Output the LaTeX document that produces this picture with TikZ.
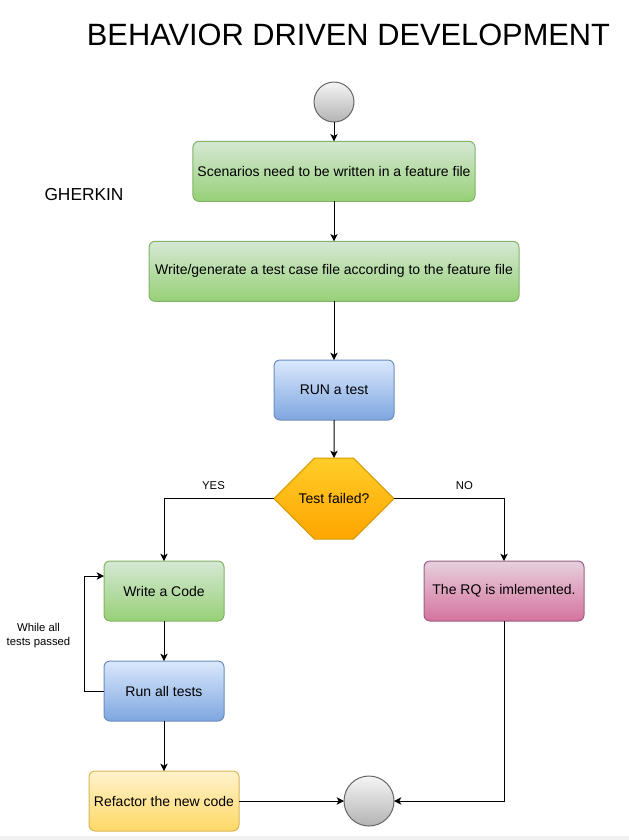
\documentclass[tikz,border=0pt]{standalone}
\usepackage{fontspec}
\setmainfont{Liberation Sans}
\usetikzlibrary{positioning}
\usetikzlibrary{arrows.meta}
\usetikzlibrary{shapes.misc}

\definecolor{greenTop}{HTML}{D5E8D4}
\definecolor{greenBot}{HTML}{97D077}
\definecolor{greenLine}{HTML}{82B366}
\definecolor{blueTop}{HTML}{DAE8FC}
\definecolor{blueBot}{HTML}{7EA6E0}
\definecolor{blueLine}{HTML}{6C8EBF}
\definecolor{orangeTop}{HTML}{FFCD28}
\definecolor{orangeBot}{HTML}{FFA500}
\definecolor{orangeLine}{HTML}{D79B00}
\definecolor{pinkTop}{HTML}{E6D0DE}
\definecolor{pinkBot}{HTML}{D5739D}
\definecolor{pinkLine}{HTML}{996185}
\definecolor{yellowTop}{HTML}{FFF2CC}
\definecolor{yellowBot}{HTML}{FFD966}
\definecolor{yellowLine}{HTML}{D6B656}
\definecolor{grayTop}{HTML}{F5F5F5}
\definecolor{grayBot}{HTML}{B3B3B3}
\definecolor{grayLine}{HTML}{666666}

\tikzset{
  box/.style={rectangle, rounded corners=4.5pt, line width=0.75pt, outer sep=0pt,
    minimum height=45pt, align=center, font=\fontsize{10.5}{12.5}\selectfont},
  greenbox/.style={box, draw=greenLine, top color=greenTop, bottom color=greenBot},
  bluebox/.style={box, draw=blueLine, top color=blueTop, bottom color=blueBot},
  pinkbox/.style={box, draw=pinkLine, top color=pinkTop, bottom color=pinkBot},
  yellowbox/.style={box, draw=yellowLine, top color=yellowTop, bottom color=yellowBot},
  terminal/.style={circle, line width=0.75pt, outer sep=0pt, draw=grayLine, top color=grayTop, bottom color=grayBot},
  decision/.style={chamfered rectangle, chamfered rectangle xsep=14.5pt, chamfered rectangle ysep=30pt,
    line width=0.75pt, outer sep=0pt, draw=orangeLine, top color=orangeTop, bottom color=orangeBot,
    minimum width=90pt, minimum height=60pt, inner sep=0pt, font=\fontsize{10.5}{12.5}\selectfont},
  arr/.style={line width=0.75pt, -{Stealth[length=5.5pt,width=5.5pt,inset=1.5pt]}},
  small/.style={font=\fontsize{8.5}{10.5}\selectfont, align=center}
}

\begin{document}
\begin{tikzpicture}[x=0.75pt,y=-0.75pt]
	\useasboundingbox (0,0) rectangle (629,840);
	\fill[black!6] (0,836) rectangle (629,840);

	\node(title) at (348.5,35){\fontsize{23.1}{28}\selectfont BEHAVIOR DRIVEN DEVELOPMENT};
	\node(gherkin) at (84,195){\fontsize{13}{15}\selectfont GHERKIN};

	\node[terminal, minimum size=30pt](start) at (334,102){};
	\node[greenbox, minimum width=210pt, below=14.5pt of start](scen){Scenarios need to be written in a feature file};
	\node[greenbox, minimum width=277.5pt, below=30pt of scen](tcase){Write/generate a test case file according to the feature file};
	\node[bluebox, minimum width=90pt, below=44pt of tcase](run){RUN a test};
	\node[decision, below=28.5pt of run](hex){Test failed?};

	\node[greenbox, minimum width=90pt](code) at (164,591){Write a Code};
	\node[bluebox, minimum width=90pt, below=30pt of code](tests){Run all tests};
	\node[yellowbox, minimum width=112.5pt, below=37.5pt of tests](refac){Refactor the new code};
	\node[pinkbox, minimum width=120pt](rq) at (504,591){The RQ is imlemented.};
	\node[terminal, minimum size=37.5pt, right=78.75pt of refac](stop){};

	\node[small](loop) at (38.5,636){While all\\tests passed};

	\draw[arr] (start) -- (scen);
	\draw[arr] (scen) -- (tcase);
	\draw[arr] (tcase) -- (run);
	\draw[arr] (run) -- (hex);
	\draw[arr] (hex.west) -| (code.north) node[small, pos=0.275, above=3pt](yes){YES};
	\draw[arr] (hex.east) -| (rq.north) node[small, pos=0.32, above=3pt](no){NO};
	\draw[arr] (code) -- (tests);
	\draw[arr] (tests.west) -- ++(-20,0) |- ([yshift=11.25pt]code.west);
	\draw[arr] (tests) -- (refac);
	\draw[arr] (refac) -- (stop);
	\draw[arr] (rq.south) |- (stop);
\end{tikzpicture}
\end{document}
